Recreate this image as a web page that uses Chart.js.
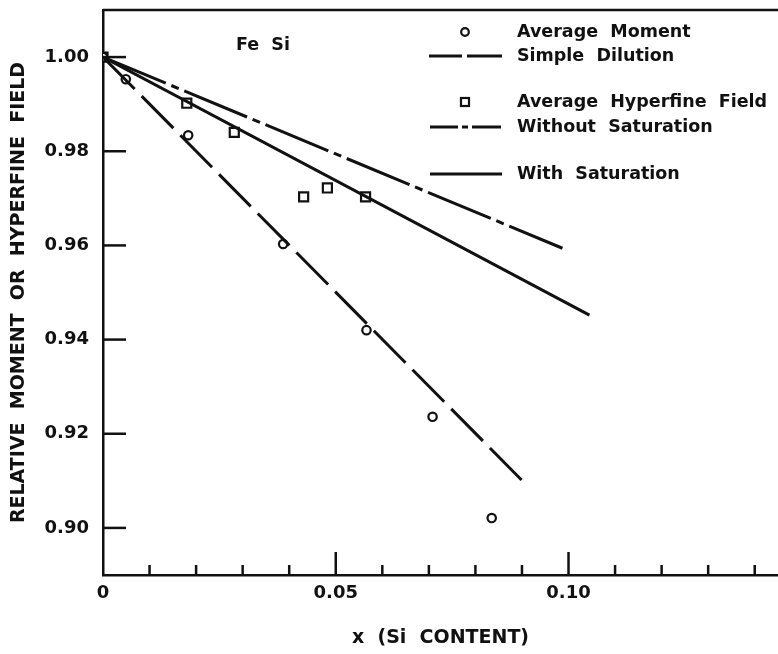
<!DOCTYPE html>
<html>
<head>
<meta charset="utf-8">
<script src="https://cdn.jsdelivr.net/npm/chart.js@4.4.1/dist/chart.umd.min.js"></script>
<style>
  html, body { margin: 0; padding: 0; background: #fff; }
  #wrap { width: 778px; height: 654px; }
</style>
</head>
<body>
<div id="wrap"><canvas id="chart" width="778" height="654"></canvas></div>
<script>
// --- DATA ---
const momentX = [0, 0.0049, 0.0183, 0.0387, 0.0566, 0.0708, 0.0835];
const momentY = [1.000, 0.9953, 0.9834, 0.9603, 0.9420, 0.9236, 0.9021];
const fieldX = [0, 0.0180, 0.0282, 0.0431, 0.0482, 0.0564];
const fieldY = [1.000, 0.9902, 0.9840, 0.9703, 0.9722, 0.9703];
const dilutionX = [0, 0.0903];
const dilutionY = [1.000, 0.9098];
const noSatX = [0, 0.0987];
const noSatY = [1.000, 0.9594];
const satX = [0, 0.1045];
const satY = [1.000, 0.9452];

const xTickValues = [0, 0.01, 0.02, 0.03, 0.04, 0.05, 0.06, 0.07, 0.08, 0.09, 0.10, 0.11, 0.12, 0.13, 0.14];
const xMajorValues = [0, 0.05, 0.10];
const xMajorLabels = ['0', '0.05', '0.10'];
const yTickValues = [0.90, 0.92, 0.94, 0.96, 0.98, 1.00];
const yTickLabels = ['0.90', '0.92', '0.94', '0.96', '0.98', '1.00'];

const legendLabels = ['Average  Moment', 'Simple  Dilution', 'Average  Hyperfine  Field', 'Without  Saturation', 'With  Saturation'];
const alloyLabel = 'Fe  Si';
const xTitle = 'x  (Si  CONTENT)';
const yTitle = 'RELATIVE  MOMENT  OR  HYPERFINE  FIELD';

const INK = '#111';
const FAMILY = '"DejaVu Sans", Verdana, sans-serif';
const DASH = [45, 10];
const DASHDOT = [68, 6, 8, 6];

function pts(xs, ys) { return xs.map((x, i) => ({ x: x, y: ys[i] })); }
function isMajor(v) { return xMajorValues.some(m => Math.abs(m - v) < 1e-9); }
function noPad(s) { s.paddingLeft = 0; s.paddingRight = 0; s.paddingTop = 0; s.paddingBottom = 0; }

// --- TICKS INTERIEURS + CADRE HAUT ---
const frame = {
    id: 'frame',
    afterDraw(chart) {
        const ctx = chart.ctx, a = chart.chartArea;
        const sx = chart.scales.x, sy = chart.scales.y;
        ctx.save();
        ctx.strokeStyle = INK; ctx.lineWidth = 2.5; ctx.lineCap = 'butt';
        ctx.beginPath(); ctx.moveTo(a.left, a.top); ctx.lineTo(a.right, a.top); ctx.stroke();
        xTickValues.forEach(v => {
            let px = sx.getPixelForValue(v), len = isMajor(v) ? 23 : 10;
            if (v === 0) return;
            ctx.beginPath(); ctx.moveTo(px, a.bottom); ctx.lineTo(px, a.bottom - len); ctx.stroke();
        });
        yTickValues.forEach(v => {
            let py = sy.getPixelForValue(v);
            ctx.beginPath(); ctx.moveTo(a.left, py); ctx.lineTo(a.left + 23, py); ctx.stroke();
        });
        ctx.restore();
    }
};

// --- LEGENDE ---
const legendBox = {
    id: 'legendBox',
    afterDraw(chart) {
        const ctx = chart.ctx;
        ctx.save();
        ctx.fillStyle = INK; ctx.strokeStyle = INK;
        ctx.font = 'bold 17.5px ' + FAMILY;
        ctx.textBaseline = 'middle'; ctx.textAlign = 'left';
        const rows = [32, 56, 102, 127, 174];
        legendLabels.forEach((t, i) => ctx.fillText(t, 517, rows[i]));

        ctx.lineWidth = 2.2;
        ctx.beginPath(); ctx.arc(465, rows[0], 3.8, 0, Math.PI * 2); ctx.stroke();
        ctx.strokeRect(461, rows[2] - 4, 8, 8);

        ctx.lineWidth = 3;
        const seg = (x0, x1, y) => { ctx.beginPath(); ctx.moveTo(x0, y); ctx.lineTo(x1, y); ctx.stroke(); };
        seg(429, 462, rows[1]); seg(467, 502, rows[1]);
        seg(430, 458, rows[3]); seg(462, 468, rows[3]); seg(472, 501, rows[3]);
        seg(430, 502, rows[4]);

        ctx.textAlign = 'center';
        ctx.fillText(alloyLabel, 263, 45);
        ctx.restore();
    }
};

const lineStyle = { showLine: true, pointRadius: 0, borderColor: INK, borderWidth: 3, fill: false, tension: 0 };
const pointStyle = { showLine: false, borderColor: INK, backgroundColor: '#fff', borderWidth: 2.2 };

new Chart(document.getElementById('chart'), {
    type: 'scatter',
    data: {
        datasets: [
            Object.assign({ label: 'Simple Dilution', data: pts(dilutionX, dilutionY), borderDash: DASH }, lineStyle),
            Object.assign({ label: 'Without Saturation', data: pts(noSatX, noSatY), borderDash: DASHDOT }, lineStyle),
            Object.assign({ label: 'With Saturation', data: pts(satX, satY) }, lineStyle),
            Object.assign({ label: 'Average Moment', data: pts(momentX, momentY), pointStyle: 'circle', pointRadius: 4.2 }, pointStyle),
            Object.assign({ label: 'Average Hyperfine Field', data: pts(fieldX, fieldY), pointStyle: 'rect', pointRadius: 6.4 }, pointStyle)
        ]
    },
    options: {
        responsive: false,
        animation: false,
        layout: { autoPadding: false, padding: { top: 10, right: 0, left: 0, bottom: 0 } },
        plugins: { legend: { display: false }, tooltip: { enabled: false } },
        scales: {
            x: {
                type: 'linear', min: 0, max: 0.145,
                afterBuildTicks: s => { s.ticks = xTickValues.map(v => ({ value: v })); },
                afterFit: s => { s.height = 79; noPad(s); },
                grid: { display: false, drawTicks: false },
                border: { display: true, color: INK, width: 2.5 },
                ticks: {
                    color: INK, padding: 8, maxRotation: 0, autoSkip: false,
                    font: { family: FAMILY, size: 18, weight: 'bold' },
                    callback: v => { let i = xMajorValues.findIndex(m => Math.abs(m - v) < 1e-9); return i >= 0 ? xMajorLabels[i] : ''; }
                },
                title: { display: true, text: xTitle, color: INK, padding: { top: 0, bottom: 5 }, font: { family: FAMILY, size: 19, weight: 'bold' } }
            },
            y: {
                type: 'linear', min: 0.89, max: 1.01,
                afterBuildTicks: s => { s.ticks = yTickValues.map(v => ({ value: v })); },
                afterFit: s => { s.width = 103; noPad(s); },
                grid: { display: false, drawTicks: false },
                border: { display: true, color: INK, width: 2.5 },
                ticks: {
                    color: INK, padding: 14, autoSkip: false,
                    font: { family: FAMILY, size: 18, weight: 'bold' },
                    callback: v => { let i = yTickValues.findIndex(m => Math.abs(m - v) < 1e-9); return i >= 0 ? yTickLabels[i] : ''; }
                },
                title: { display: true, text: yTitle, color: INK, padding: { top: 8, bottom: 0 }, font: { family: FAMILY, size: 19, weight: 'bold' } }
            }
        }
    },
    plugins: [frame, legendBox]
});
</script>
</body>
</html>
